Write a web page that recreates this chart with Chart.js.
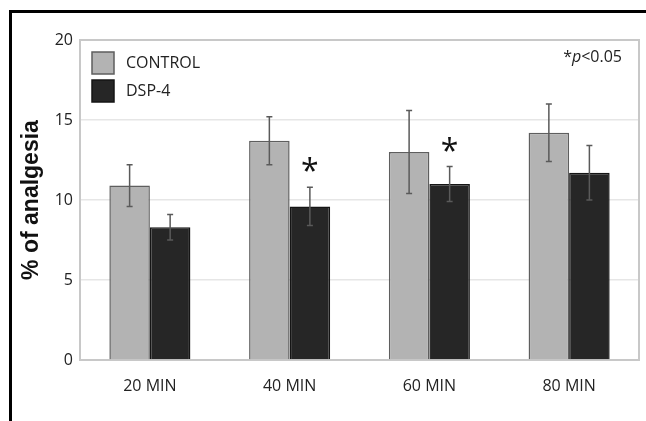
<!DOCTYPE html>
<html>
<head>
<meta charset="utf-8">
<script src="https://cdn.jsdelivr.net/npm/chart.js@4.4.1/dist/chart.umd.min.js"></script>
<style>
  html, body { margin: 0; padding: 0; background: #fff; overflow: hidden; }
  #wrap { position: relative; width: 646px; height: 421px; }
  #frame {
    position: absolute; left: 9px; top: 10px; width: 700px; height: 500px;
    border-top: 3px solid #000; border-left: 3px solid #000; pointer-events: none;
  }
</style>
</head>
<body>
<div id="wrap">
  <canvas id="chart" width="646" height="421"></canvas>
  <div id="frame"></div>
</div>
<script>
const categories = ["20 MIN", "40 MIN", "60 MIN", "80 MIN"];
const controlValues = [10.9, 13.7, 13.0, 14.2];
const controlErrors = [1.3, 1.5, 2.6, 1.8];
const dspValues = [8.3, 9.6, 11.0, 11.7];
const dspErrors = [0.8, 1.2, 1.1, 1.7];
const dspSignificant = [false, true, true, false];
const yTicks = [0, 5, 10, 15, 20];

const FONT = "'Open Sans', 'DejaVu Sans', sans-serif";

// error bars, significance stars, plot frame, legend and the p-value note
const extrasPlugin = {
  id: "extras",
  beforeDatasetsDraw(chart) {
    const { ctx, chartArea: a } = chart;
    ctx.save();
    ctx.strokeStyle = "#c8c8c8";
    ctx.lineWidth = 2;
    ctx.strokeRect(a.left, a.top, a.right - a.left, a.bottom - a.top);
    ctx.restore();
  },
  afterDatasetsDraw(chart) {
    const { ctx, scales: { y } } = chart;
    const a = chart.chartArea;
    const errs = [controlErrors, dspErrors];
    ctx.save();
    errs.forEach((err, di) => {
      const vals = chart.data.datasets[di].data;
      chart.getDatasetMeta(di).data.forEach((bar, i) => {
        const top = y.getPixelForValue(vals[i] + err[i]);
        const bot = y.getPixelForValue(vals[i] - err[i]);
        ctx.strokeStyle = "#5a5a5a";
        ctx.lineWidth = 1.5;
        ctx.beginPath();
        ctx.moveTo(bar.x, top);
        ctx.lineTo(bar.x, bot);
        ctx.moveTo(bar.x - 3, top);
        ctx.lineTo(bar.x + 3, top);
        ctx.moveTo(bar.x - 3, bot);
        ctx.lineTo(bar.x + 3, bot);
        ctx.stroke();
        if (di === 1 && dspSignificant[i]) {
          ctx.fillStyle = "#111";
          ctx.font = "32px " + FONT;
          ctx.textAlign = "center";
          ctx.textBaseline = "middle";
          ctx.fillText("*", bar.x, top - 14);
        }
      });
    });

    // legend, top left inside the plot
    chart.data.datasets.forEach((ds, di) => {
      const bx = a.left + 12;
      const by = a.top + 12 + di * 28;
      ctx.fillStyle = ds.backgroundColor;
      ctx.fillRect(bx, by, 22, 22);
      ctx.strokeStyle = ds.borderColor;
      ctx.lineWidth = 1.5;
      ctx.strokeRect(bx, by, 22, 22);
      ctx.fillStyle = "#222";
      ctx.font = "16px " + FONT;
      ctx.textAlign = "left";
      ctx.textBaseline = "middle";
      ctx.fillText(ds.label, bx + 34, by + 11);
    });

    // *p<0.05 note, top right of the plot
    const parts = [["*", "16px "], ["p", "italic 16px "], ["<0.05", "16px "]];
    let w = 0;
    parts.forEach(([t, f]) => { ctx.font = f + FONT; w += ctx.measureText(t).width; });
    let x = a.right - 17 - w;
    ctx.fillStyle = "#222";
    ctx.textAlign = "left";
    ctx.textBaseline = "middle";
    parts.forEach(([t, f]) => {
      ctx.font = f + FONT;
      ctx.fillText(t, x, a.top + 17);
      x += ctx.measureText(t).width;
    });
    ctx.restore();
  },
};

new Chart(document.getElementById("chart"), {
  type: "bar",
  data: {
    labels: categories,
    datasets: [
      {
        label: "CONTROL",
        data: controlValues,
        backgroundColor: "#b3b3b3",
        borderColor: "#5e5e5e",
        borderWidth: 1.5,
      },
      {
        label: "DSP-4",
        data: dspValues,
        backgroundColor: "#262626",
        borderColor: "#151515",
        borderWidth: 1.5,
      },
    ],
  },
  options: {
    responsive: false,
    animation: false,
    layout: { padding: { left: 14, right: 7, top: 40, bottom: 0 } },
    datasets: {
      bar: { categoryPercentage: 0.58, barPercentage: 1 },
    },
    plugins: {
      legend: { display: false },
      tooltip: { enabled: false },
    },
    scales: {
      x: {
        grid: { display: false, drawTicks: false },
        border: { color: "#b0b0b0", width: 2 },
        ticks: { color: "#222", padding: 17, font: { family: FONT, size: 16 } },
        afterFit: (scale) => { scale.height = 61; },
      },
      y: {
        min: 0,
        max: 20,
        afterBuildTicks: (scale) => { scale.ticks = yTicks.map((v) => ({ value: v })); },
        grid: { color: "#e6e6e6", lineWidth: 1.5, drawTicks: false },
        border: { color: "#c8c8c8", width: 2 },
        ticks: { color: "#222", padding: 7, font: { family: FONT, size: 16 } },
        title: {
          display: true,
          text: "% of analgesia",
          color: "#111",
          font: { family: "'Liberation Sans', Arial, sans-serif", size: 23, weight: "bold" },
          padding: { top: 4, bottom: 4 },
        },
        afterFit: (scale) => { scale.width = 66; },
      },
    },
  },
  plugins: [extrasPlugin],
});
</script>
</body>
</html>
